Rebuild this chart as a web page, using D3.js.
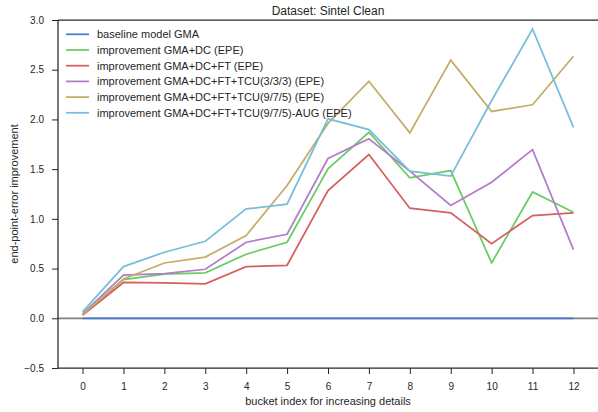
<!DOCTYPE html>
<html><head><meta charset="utf-8">
<script src="https://cdn.jsdelivr.net/npm/d3@7"></script>
<style>body{margin:0;background:#fff}svg{display:block;font-family:"Liberation Sans",Arial,sans-serif}</style>
</head><body><svg id="c" width="598" height="412"></svg>
<script>
const buckets = [0,1,2,3,4,5,6,7,8,9,10,11,12];
const seriesNames = [
  "baseline model GMA",
  "improvement GMA+DC (EPE)",
  "improvement GMA+DC+FT (EPE)",
  "improvement GMA+DC+FT+TCU(3/3/3) (EPE)",
  "improvement GMA+DC+FT+TCU(9/7/5) (EPE)",
  "improvement GMA+DC+FT+TCU(9/7/5)-AUG (EPE)"
];
const baseline = [0,0,0,0,0,0,0,0,0,0,0,0,0];
const gmaDC = [0.04,0.39,0.445,0.457,0.644,0.765,1.503,1.871,1.412,1.486,0.557,1.27,1.066];
const gmaDCFT = [0.03,0.36,0.357,0.346,0.52,0.533,1.285,1.647,1.107,1.06,0.751,1.033,1.06];
const tcu333 = [0.045,0.435,0.448,0.493,0.765,0.845,1.607,1.805,1.48,1.134,1.368,1.697,0.69];
const tcu975 = [0.037,0.395,0.556,0.616,0.833,1.335,1.96,2.384,1.865,2.596,2.08,2.147,2.636];
const tcu975aug = [0.064,0.52,0.664,0.775,1.10,1.147,2.006,1.898,1.479,1.43,2.19,2.91,1.92];
const yTicks = [-0.5,0.0,0.5,1.0,1.5,2.0,2.5,3.0];
const colors = ["#4878CF","#6ACC65","#D65F5F","#B47CC7","#C4AD66","#77BEDB"];
const allSeries = [baseline,gmaDC,gmaDCFT,tcu333,tcu975,tcu975aug];

const svg = d3.select("#c");
const L=58,R=598,T=20,B=368;
const x = d3.scaleLinear().domain([-0.6,12.6]).range([L,R]);
const y = d3.scaleLinear().domain([-0.5,3.0]).range([B,T]);
const ink="#262626";

// zero line
svg.append("line").attr("x1",L).attr("x2",R).attr("y1",y(0)).attr("y2",y(0))
  .attr("stroke","#808080").attr("stroke-width",1.75);

const line = d3.line().x((d,i)=>x(buckets[i])).y(d=>y(d));
allSeries.forEach((s,k)=>{
  svg.append("path").datum(s).attr("d",line).attr("fill","none")
    .attr("stroke",colors[k]).attr("stroke-width",1.75).attr("stroke-linejoin","miter");
});

// axes
const yAxis = d3.axisLeft(y).tickValues(yTicks).tickSize(6).tickPadding(8)
  .tickFormat(d=>d3.format(".1f")(d).replace("-","\u2212"));
const gy = svg.append("g").attr("transform",`translate(${L},0)`).call(yAxis);
const xAxis = d3.axisBottom(x).tickValues(buckets).tickSize(6).tickPadding(9).tickFormat(d3.format("d"));
const gx = svg.append("g").attr("transform",`translate(0,${B})`).call(xAxis);
[gx,gy].forEach(g=>{
  g.select(".domain").remove();
  g.selectAll("line").attr("stroke",ink).attr("stroke-width",1);
  g.selectAll("text").attr("fill",ink).attr("font-size",10).attr("font-family","Liberation Sans, Arial, sans-serif");
});
// spines
svg.append("line").attr("x1",L).attr("x2",L).attr("y1",T).attr("y2",B).attr("stroke",ink).attr("stroke-width",1.25);
svg.append("line").attr("x1",L).attr("x2",R).attr("y1",B).attr("y2",B).attr("stroke",ink).attr("stroke-width",1.25);
svg.append("line").attr("x1",L).attr("x2",R).attr("y1",T).attr("y2",T).attr("stroke",ink).attr("stroke-width",1.25);

// title & labels
svg.append("text").attr("x",(L+R)/2).attr("y",15).attr("text-anchor","middle")
  .attr("font-size",12).attr("fill",ink).text("Dataset: Sintel Clean");
svg.append("text").attr("x",(L+R)/2).attr("y",405).attr("text-anchor","middle")
  .attr("font-size",11).attr("fill",ink).text("bucket index for increasing details");
svg.append("text").attr("transform",`translate(18,${(T+B)/2}) rotate(-90)`).attr("text-anchor","middle")
  .attr("font-size",11).attr("fill",ink).text("end-point-error improvement");

// legend
const lg = svg.append("g");
seriesNames.forEach((n,k)=>{
  const yy = 34.3 + k*15.7;
  lg.append("line").attr("x1",66).attr("x2",89).attr("y1",yy).attr("y2",yy)
    .attr("stroke",colors[k]).attr("stroke-width",1.75);
  lg.append("text").attr("x",97).attr("y",yy+4).attr("font-size",11).attr("fill",ink).text(n);
});
</script></body></html>
